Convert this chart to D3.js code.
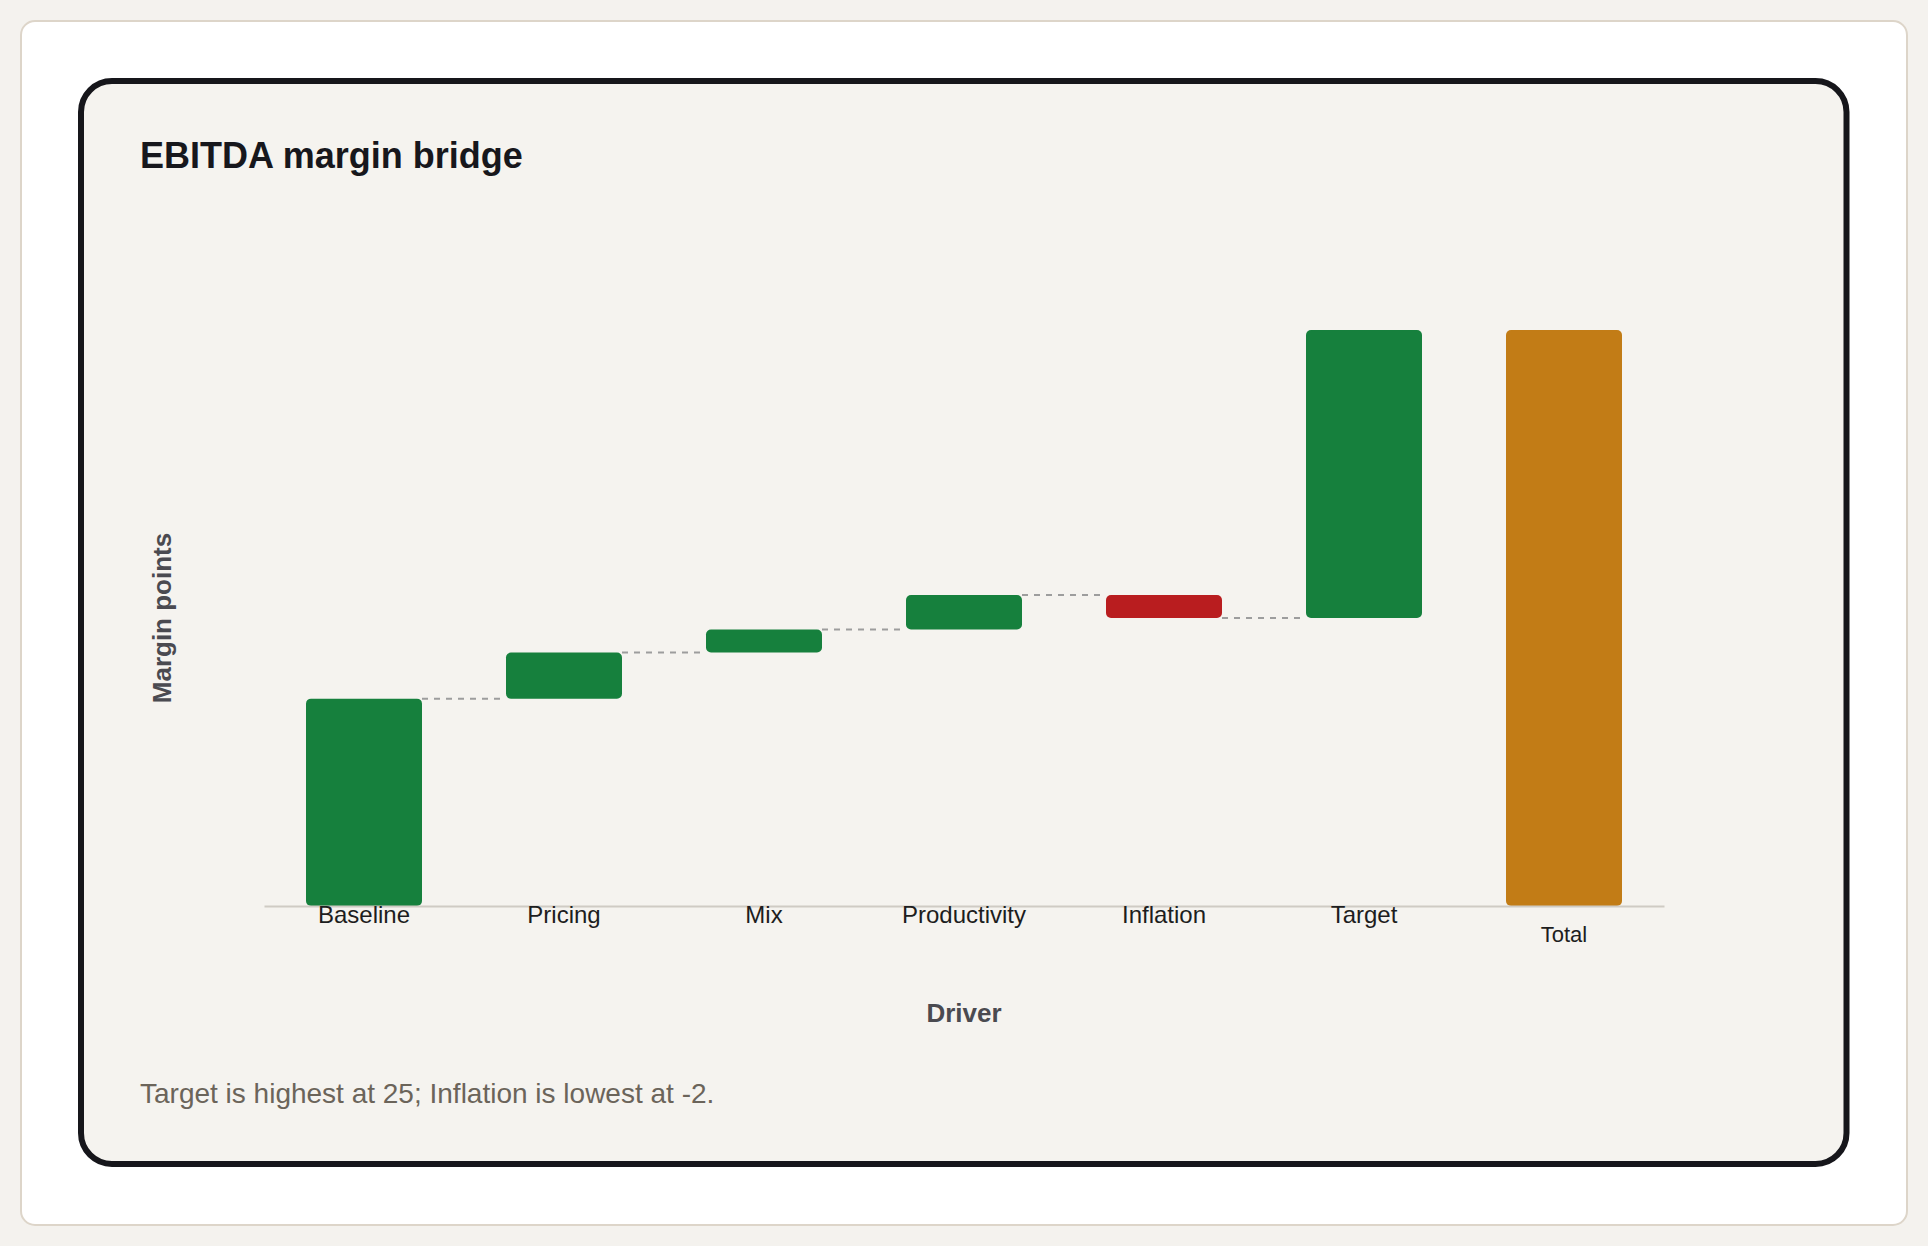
<!DOCTYPE html>
<html>
<head>
<meta charset="utf-8">
<script src="https://cdn.jsdelivr.net/npm/d3@7"></script>
<style>
  html, body { margin: 0; padding: 0; background: #f4f2ee; }
  svg { display: block; }
  text { font-family: "Liberation Sans", Arial, Helvetica, sans-serif; }
</style>
</head>
<body>
<svg id="chart" width="1928" height="1246"></svg>
<script>
// ---- data ----
const categories = ["Baseline", "Pricing", "Mix", "Productivity", "Inflation", "Target", "Total"];
const deltas = [18, 4, 2, 3, -2, 25];
const totalLabel = "Total";
const yDomain = [0, 50];
const title = "EBITDA margin bridge";
const xTitle = "Driver";
const yTitle = "Margin points";
const note = "Target is highest at 25; Inflation is lowest at -2.";

const svg = d3.select("#chart");

// cards
svg.append("rect").attr("x", 21).attr("y", 21).attr("width", 1886).attr("height", 1204)
  .attr("rx", 14).attr("fill", "#ffffff").attr("stroke", "#ddd5c9").attr("stroke-width", 2);
svg.append("rect").attr("x", 81).attr("y", 81).attr("width", 1765.5).attr("height", 1083)
  .attr("rx", 31).attr("fill", "#f5f3ef").attr("stroke", "#16161b").attr("stroke-width", 6);

// title
svg.append("text").attr("x", 140).attr("y", 168).text(title)
  .attr("font-size", 36).attr("font-weight", "bold").attr("fill", "#17171c");

// scales
const x = d3.scaleBand().domain(categories).range([264, 1664]).paddingInner(0.42).paddingOuter(0.21);
const y = d3.scaleLinear().domain(yDomain).range([906, 330]);

// build waterfall
let run = 0;
const bars = categories.map((c, i) => {
  if (c === totalLabel) {
    return { cat: c, start: 0, end: run, type: "total" };
  }
  const s = run; run += deltas[i];
  return { cat: c, start: s, end: run, type: deltas[i] >= 0 ? "up" : "down" };
});
const colors = { up: "#16803d", down: "#b91d1f", total: "#c27c16" };

// connectors
const g = svg.append("g");
const conns = bars.slice(0, bars.length - 2).map((b, i) => ({ from: b, to: bars[i + 1] }));
g.selectAll("line.conn").data(conns).join("line")
  .attr("class", "conn")
  .attr("x1", d => x(d.from.cat) + x.bandwidth())
  .attr("x2", d => x(d.to.cat))
  .attr("y1", d => y(d.from.end))
  .attr("y2", d => y(d.from.end))
  .attr("stroke", "#9d9d9d").attr("stroke-width", 2).attr("stroke-dasharray", "6,6");

// bars
g.selectAll("rect.bar").data(bars).join("rect")
  .attr("class", "bar")
  .attr("x", d => x(d.cat))
  .attr("width", x.bandwidth())
  .attr("y", d => y(Math.max(d.start, d.end)))
  .attr("height", d => Math.abs(y(d.start) - y(d.end)))
  .attr("rx", 5)
  .attr("fill", d => colors[d.type]);

// x axis
const ax = svg.append("g").attr("transform", `translate(0,${y(0)})`)
  .call(d3.axisBottom(x).tickSize(0).tickSizeOuter(0).tickPadding(0));
ax.select(".domain").attr("stroke", "#cfcbc4").attr("stroke-width", 2);
ax.selectAll(".tick text")
  .attr("font-family", '"Liberation Sans", Arial, Helvetica, sans-serif')
  .attr("font-size", 24).attr("fill", "#1d1d20");
ax.selectAll(".tick").filter(d => d === totalLabel).select("text")
  .attr("y", 20).attr("font-size", 22);

// axis titles
svg.append("text").attr("x", 964).attr("y", 1022).attr("text-anchor", "middle")
  .attr("font-size", 26).attr("font-weight", "bold").attr("fill", "#4a4a50").text(xTitle);
svg.append("text").attr("transform", "translate(171,618) rotate(-90)").attr("text-anchor", "middle")
  .attr("font-size", 26).attr("font-weight", "bold").attr("fill", "#4a4a50").text(yTitle);

// note
svg.append("text").attr("x", 140).attr("y", 1103).attr("font-size", 28)
  .attr("fill", "#6b645a").text(note);
</script>
</body>
</html>
